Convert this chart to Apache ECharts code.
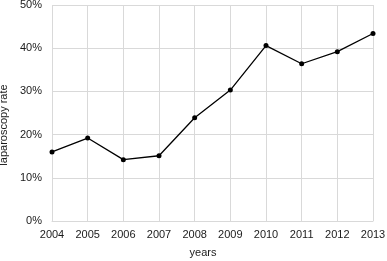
<!DOCTYPE html>
<html>
<head>
<meta charset="utf-8">
<script src="https://cdn.jsdelivr.net/npm/echarts@6/dist/echarts.min.js"></script>
<style>html,body{margin:0;padding:0;background:#fff}#c{width:387px;height:261px}</style>
</head>
<body>
<div id="c"></div>
<script>
var years = ['2004','2005','2006','2007','2008','2009','2010','2011','2012','2013'];
var rates = [16.0, 19.2, 14.2, 15.1, 23.9, 30.3, 40.6, 36.4, 39.2, 43.4];
var yTicks = {min: 0, max: 50, interval: 10};

var chart = echarts.init(document.getElementById('c'), null, {renderer: 'canvas'});
var font = 'Arial, "Liberation Sans", sans-serif';
chart.setOption({
  animation: false,
  grid: {left: 52, right: 14, top: 5, bottom: 40, containLabel: false, outerBoundsMode: 'none'},
  xAxis: {
    type: 'category',
    data: years,
    boundaryGap: false,
    name: 'years',
    nameLocation: 'middle',
    nameGap: 26,
    nameTextStyle: {fontFamily: font, fontSize: 11, color: '#1a1a1a', padding: [0, 19, 0, 0]},
    axisLine: {lineStyle: {color: '#d9d9d9', width: 1}},
    axisTick: {show: false},
    axisLabel: {fontFamily: font, fontSize: 11, color: '#1a1a1a', margin: 8},
    splitLine: {show: true, lineStyle: {color: '#d9d9d9', width: 1}}
  },
  yAxis: {
    type: 'value',
    min: yTicks.min, max: yTicks.max, interval: yTicks.interval,
    name: 'laparoscopy rate',
    nameLocation: 'middle',
    nameGap: 32,
    nameTextStyle: {fontFamily: font, fontSize: 11, color: '#1a1a1a', padding: [0, 24, 0, 0]},
    axisLine: {show: false},
    axisTick: {show: false},
    axisLabel: {fontFamily: font, fontSize: 11, color: '#1a1a1a', margin: 10, formatter: '{value}%'},
    splitLine: {show: true, lineStyle: {color: '#d9d9d9', width: 1}}
  },
  series: [{
    type: 'line',
    data: rates,
    symbol: 'circle',
    symbolSize: 5,
    lineStyle: {color: '#000', width: 1.3},
    itemStyle: {color: '#000'}
  }]
});
</script>
</body>
</html>
